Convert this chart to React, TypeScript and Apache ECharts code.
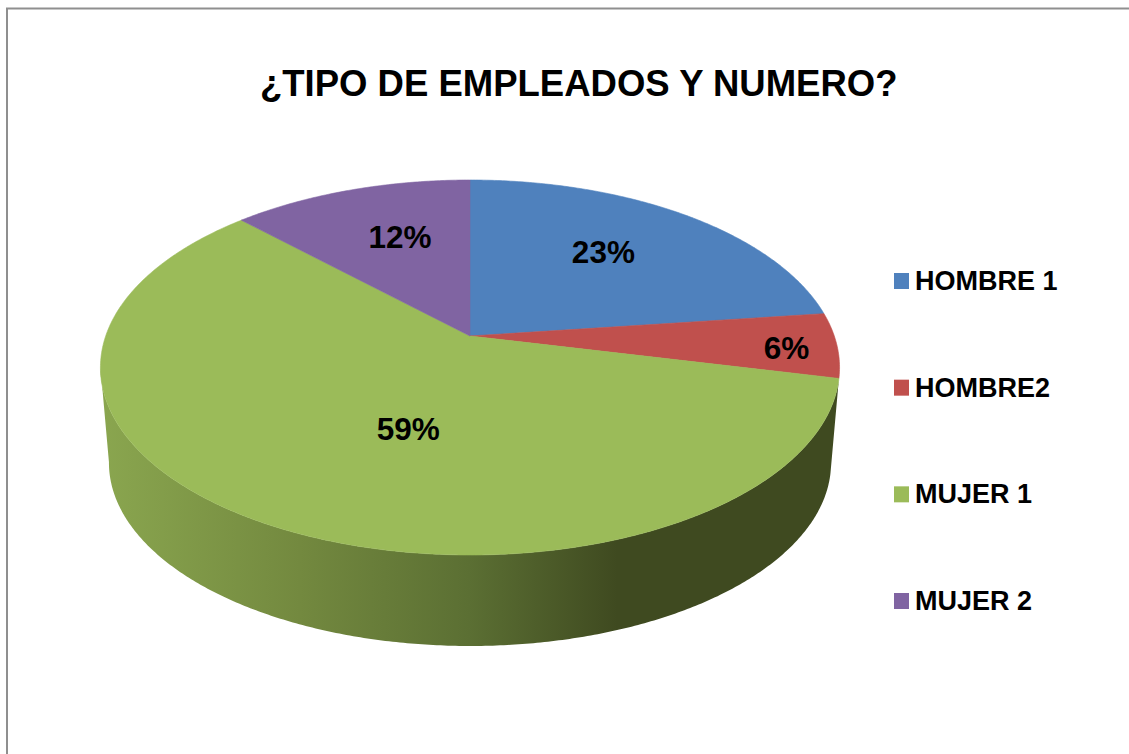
import React, { useEffect, useRef } from "react";
import * as echarts from "echarts";

const TITLE = "¿TIPO DE EMPLEADOS Y NUMERO?";
const categories = ["HOMBRE 1", "HOMBRE2", "MUJER 1", "MUJER 2"];
const values = [23, 5.6, 59, 12.4];
const colors = ["#4f81bd", "#c0504d", "#9bbb59", "#8064a2"];
const labelRadius = [0.6, 0.85, 0.5, 0.6];
const labelNudge = [[-1, -8], [5, 4], [34, 7], [6, -6]];

const FONT = '"Liberation Sans", Arial, sans-serif';
const CX = 470, APEX_Y = 336, A = 364.3, B = 125.76, K = -0.168;
const ELL_CY = 367.5, WALL_SCALE = 0.977, WALL_CY = 462.8;
const total = values.reduce((a, b) => a + b, 0);
const starts = values.map((_, i) => values.slice(0, i).reduce((a, b) => a + b, 0) / total);

// perspective projection of a point of the unit disc, th clockwise from 12 o'clock
function project(thDeg: number, r = 1): [number, number] {
  const th = (thDeg * Math.PI) / 180;
  const u = r * Math.sin(th), v = -r * Math.cos(th);
  const den = 1 + K * v;
  return [CX + (A * u) / den, (B * v + APEX_Y) / den];
}
function wallPoint(p: [number, number]): [number, number] {
  return [CX + WALL_SCALE * (p[0] - CX), WALL_CY + WALL_SCALE * (p[1] - ELL_CY)];
}

function renderSlice(i: number) {
  return () => {
    const a0 = starts[i] * 360, a1 = (starts[i] + values[i] / total) * 360;
    const pts: [number, number][] = [project(0, 0)];
    for (let a = a0; a < a1; a += 0.5) pts.push(project(a));
    pts.push(project(a1));
    const mid = project((a0 + a1) / 2, labelRadius[i]);
    return {
      type: "group",
      children: [
        { type: "polygon", shape: { points: pts }, style: { fill: colors[i], stroke: colors[i], lineWidth: 0.6 } },
        {
          type: "text", z2: 10,
          style: {
            x: mid[0] + labelNudge[i][0], y: mid[1] + labelNudge[i][1],
            text: Math.round((values[i] / total) * 100) + "%",
            fill: "#000", font: `bold 31.5px ${FONT}`, align: "center", verticalAlign: "middle",
          },
        },
      ],
    };
  };
}

function renderWall() {
  const a0 = starts[2] * 360, a1 = (starts[2] + values[2] / total) * 360;
  const top: [number, number][] = [];
  let prevX = Infinity;
  for (let a = a0; a <= a1; a += 0.5) {
    const p = project(a);
    if (a > 180 && p[0] > prevX) break;
    top.push(p);
    prevX = p[0];
  }
  const bottom = top.map(wallPoint).reverse();
  return {
    type: "polygon",
    shape: { points: [...top, ...bottom] },
    style: {
      fill: new echarts.graphic.LinearGradient(0, 0, 1, 0, [
        { offset: 0, color: "#8aa64f" },
        { offset: 0.27, color: "#73893f" },
        { offset: 0.5, color: "#5b6f33" },
        { offset: 0.7, color: "#3f4a20" },
        { offset: 1, color: "#3f4a20" },
      ]),
    },
  };
}

export default function App() {
  const ref = useRef<HTMLDivElement>(null);
  useEffect(() => {
    const chart = echarts.init(ref.current!, null, { renderer: "svg" });
    chart.setOption({
      animation: false,
      backgroundColor: "#ffffff",
      title: {
        text: TITLE, left: 255, top: 60,
        textStyle: { fontFamily: FONT, fontWeight: "bold", fontSize: 36.5, color: "#000" },
      },
      legend: {
        data: categories, orient: "vertical", left: 894, top: 266,
        itemWidth: 15, itemHeight: 16, itemGap: 76.67, padding: 0,
        icon: "rect", selectedMode: false,
        textStyle: { fontFamily: FONT, fontWeight: "bold", fontSize: 27, color: "#000", lineHeight: 30, padding: [0, 0, 0, 1] },
      },
      graphic: [
        {
          type: "rect", silent: true, z: -1,
          shape: { x: 7, y: 8.5, width: 1300, height: 900 },
          style: { fill: "none", stroke: "#8f8f8f", lineWidth: 2 },
        },
      ],
      series: [
        { type: "custom", name: "_wall", coordinateSystem: "none", data: [values[2]], renderItem: renderWall, silent: true, z: 1 },
        ...categories.map((name, i) => ({
          type: "custom", name, coordinateSystem: "none", data: [values[i]],
          itemStyle: { color: colors[i] }, renderItem: renderSlice(i), z: 2,
        })),
      ],
    });
    return () => chart.dispose();
  }, []);
  return <div ref={ref} style={{ position: "fixed", left: 0, top: 0, width: 1129, height: 754 }} />;
}
